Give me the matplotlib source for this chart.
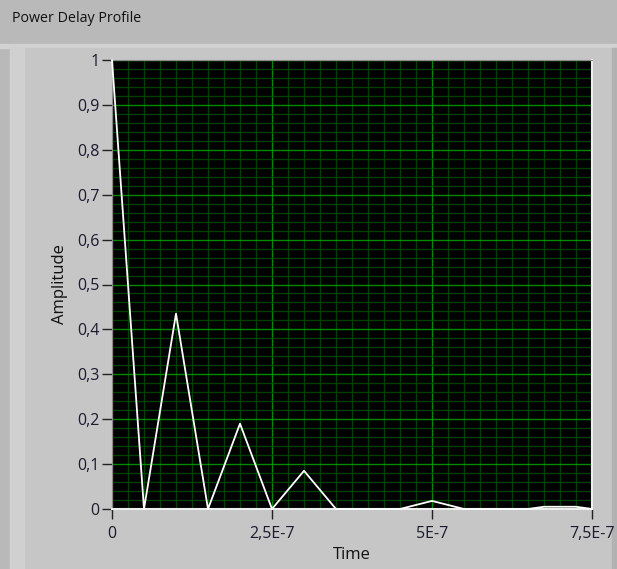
import matplotlib.pyplot as plt
import matplotlib.patches as mpatches
from matplotlib.ticker import MultipleLocator, FixedLocator, FixedFormatter

# power delay profile
time = [0, 0.5e-7, 1.0e-7, 1.5e-7, 2.0e-7, 2.5e-7, 3.0e-7, 3.5e-7,
        4.5e-7, 5.0e-7, 5.5e-7, 6.5e-7, 6.75e-7, 7.25e-7, 7.5e-7]
amp = [1.0, 0.0, 0.435, 0.0, 0.19, 0.0, 0.085, 0.0,
       0.0, 0.018, 0.0, 0.0, 0.005, 0.005, 0.0]

xticks = [0, 2.5e-7, 5e-7, 7.5e-7]
xlabels = ['0', '2,5E-7', '5E-7', '7,5E-7']
yticks = [i / 10 for i in range(11)]
ylabels = ['0'] + ['0,%d' % i for i in range(1, 10)] + ['1']

W, H = 617, 569
fig = plt.figure(figsize=(W / 100, H / 100), dpi=100)
fig.patch.set_facecolor('#b9b9b9')

# LabVIEW panel look
def rect(x0, y0, w, h, color):
    fig.patches.append(mpatches.Rectangle((x0 / W, 1 - (y0 + h) / H), w / W, h / H,
                                          transform=fig.transFigure, color=color, zorder=-10))

rect(0, 44, W, 4, '#d2d2d2')
rect(10, 48, 602, 521, '#c6c6c6')
rect(10, 48, 14, 521, '#d0d0d0')
rect(612, 48, 5, 521, '#b2b2b2')

FONT = 'Open Sans'
fig.text(12 / W, 1 - 18 / H, 'Power Delay Profile', fontsize=10.3, va='center', ha='left',
         family=FONT, color='#111111')

ax = fig.add_axes([112 / W, 1 - 509 / H, 480 / W, 449 / H])
ax.set_facecolor('black')
ax.plot(time, amp, color='white', lw=1.3, zorder=5, clip_on=False)

ax.set_xlim(0, 7.5e-7)
ax.set_ylim(0, 1)
ax.xaxis.set_major_locator(FixedLocator(xticks))
ax.xaxis.set_major_formatter(FixedFormatter(xlabels))
ax.xaxis.set_minor_locator(MultipleLocator(2.5e-8))
ax.yaxis.set_major_locator(FixedLocator(yticks))
ax.yaxis.set_major_formatter(FixedFormatter(ylabels))
ax.yaxis.set_minor_locator(MultipleLocator(0.02))

ax.grid(which='major', color='#008a00', lw=1)
ax.grid(which='minor', color='#004000', lw=1)
ax.set_axisbelow(True)

ax.tick_params(which='major', direction='out', length=7, width=1, color='#222222',
               labelsize=11.5, labelcolor='#1a1a30', pad=2)
ax.tick_params(axis='x', which='major', pad=5)
ax.tick_params(which='minor', length=0)
for lab in ax.get_xticklabels() + ax.get_yticklabels():
    lab.set_family(FONT)

for side in ['top', 'left']:
    ax.spines[side].set_color('#8a8a8a')
for side in ['bottom', 'right']:
    ax.spines[side].set_color('#eeeeee')
    ax.spines[side].set_linewidth(1.5)

ax.set_xlabel('Time', fontsize=12, family=FONT, color='#111111')
ax.set_ylabel('Amplitude', fontsize=12, family=FONT, color='#111111')
ax.xaxis.set_label_coords(0.5, (509 - 547) / 449)
ax.yaxis.set_label_coords((68 - 112) / 480, 0.5)

fig.savefig('out.png', dpi=100, facecolor=fig.get_facecolor())
